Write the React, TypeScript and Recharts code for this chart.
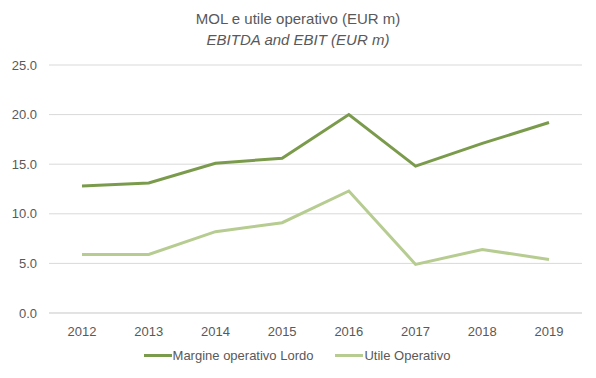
import React from 'react';
import { LineChart, Line, XAxis, YAxis, CartesianGrid, Legend } from 'recharts';

const years = ['2012', '2013', '2014', '2015', '2016', '2017', '2018', '2019'];
const margineLordo = [12.8, 13.1, 15.1, 15.6, 20.0, 14.8, 17.1, 19.2];
const utileOperativo = [5.9, 5.9, 8.2, 9.1, 12.3, 4.9, 6.4, 5.4];
const yTicks = [0, 5, 10, 15, 20, 25];

const DARK = '#7b9b4c';
const LIGHT = '#b6cc91';
const TEXT = '#595959';
const FONT = '"Liberation Sans Narrow", "Arial Narrow", "Liberation Sans", sans-serif';

const data = years.map((year, i) => ({
  year,
  mol: margineLordo[i],
  ebit: utileOperativo[i],
}));

// legend drawn as plain html inside the recharts Legend slot
function LegendContent() {
  const items = [
    { label: 'Margine operativo Lordo', color: DARK },
    { label: 'Utile Operativo', color: LIGHT },
  ];
  return (
    <div style={{ display: 'flex', justifyContent: 'center', height: 20, alignItems: 'center', fontFamily: FONT, fontSize: 13, color: TEXT, paddingLeft: 12 }}>
      {items.map((it) => (
        <div key={it.label} style={{ display: 'flex', alignItems: 'center', margin: '0 11px' }}>
          <span style={{ display: 'inline-block', flexShrink: 0, width: 28, height: 3, background: it.color, marginRight: 1 }} />
          <span>{it.label}</span>
        </div>
      ))}
    </div>
  );
}

export default function App() {
  return (
    <div style={{ position: 'absolute', left: 0, top: 0, width: 596, height: 378, background: '#fff' }}>
      <div style={{ position: 'absolute', top: 8, width: 596, textAlign: 'center', fontFamily: FONT, color: TEXT, fontSize: 15, lineHeight: '21px' }}>
        <div>MOL e utile operativo (EUR m)</div>
        <div style={{ fontStyle: 'italic' }}>EBITDA and EBIT (EUR m)</div>
      </div>
      <LineChart
        width={596}
        height={378}
        data={data}
        margin={{ top: 65, right: 14, bottom: 13, left: 0 }}
        style={{ position: 'absolute', left: 0, top: 0 }}
      >
        <CartesianGrid vertical={false} stroke="#d9d9d9" strokeWidth={1} />
        <XAxis
          dataKey="year"
          padding={{ left: 33, right: 33 }}
          axisLine={{ stroke: '#d9d9d9' }}
          tickLine={false}
          height={32}
          tickMargin={8}
          tick={{ fill: TEXT, fontSize: 13, fontFamily: FONT }}
        />
        <YAxis
          width={49}
          domain={[0, 25]}
          ticks={yTicks}
          axisLine={false}
          tickLine={false}
          tickMargin={6}
          tickFormatter={(v: number) => v.toFixed(1)}
          tick={{ fill: TEXT, fontSize: 13, fontFamily: FONT }}
        />
        <Legend verticalAlign="bottom" height={20} content={<LegendContent />} />
        <Line
          type="linear"
          dataKey="mol"
          name="Margine operativo Lordo"
          stroke={DARK}
          strokeWidth={3}
          dot={false}
          isAnimationActive={false}
        />
        <Line
          type="linear"
          dataKey="ebit"
          name="Utile Operativo"
          stroke={LIGHT}
          strokeWidth={3}
          dot={false}
          isAnimationActive={false}
        />
      </LineChart>
    </div>
  );
}
